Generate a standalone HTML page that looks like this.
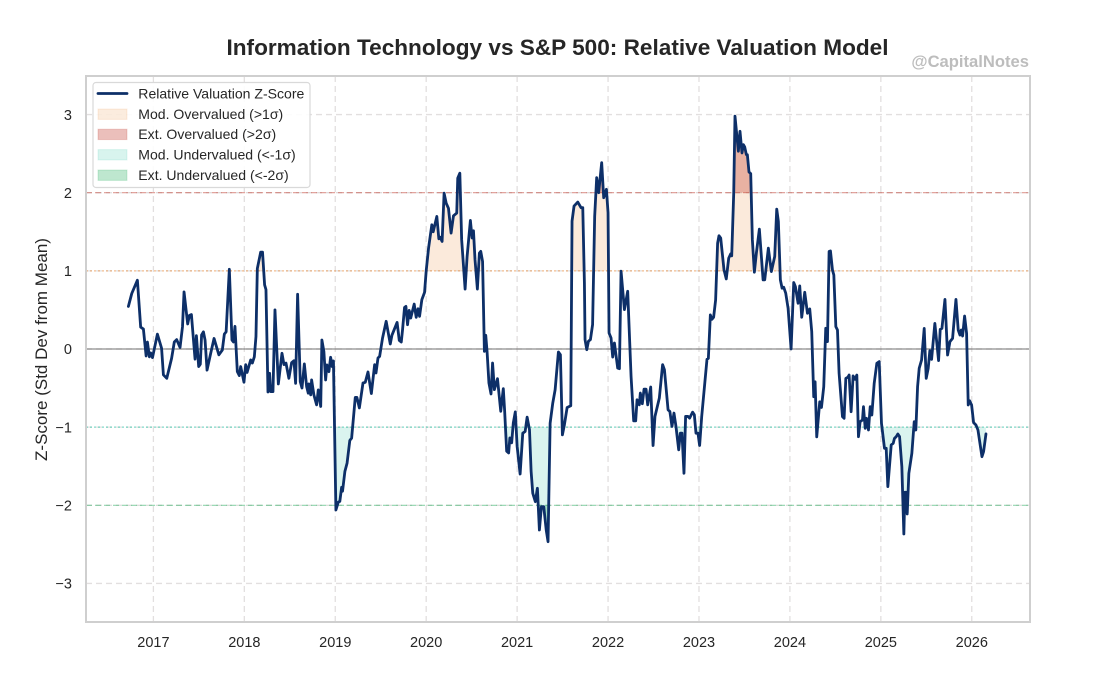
<!DOCTYPE html>
<html>
<head>
<meta charset="utf-8">
<title>Information Technology vs S&amp;P 500: Relative Valuation Model</title>
<style>
html,body{margin:0;padding:0;background:#fff;width:1093px;height:685px;overflow:hidden}
svg{display:block}
text{font-family:"Liberation Sans",Arial,sans-serif;fill:#262626}
</style>
</head>
<body>
<svg id="chart" xmlns="http://www.w3.org/2000/svg" width="1093" height="685" viewBox="0 0 1093 685">
  <defs>
    <clipPath id="clip-plot"><rect x="86" y="76" width="944" height="546"></rect></clipPath>
    <clipPath id="clip-over1"><rect id="r-over1" x="86" width="944"></rect></clipPath>
    <clipPath id="clip-over2"><rect id="r-over2" x="86" width="944"></rect></clipPath>
    <clipPath id="clip-under1"><rect id="r-under1" x="86" width="944"></rect></clipPath>
    <clipPath id="clip-under2"><rect id="r-under2" x="86" width="944"></rect></clipPath>
  </defs>
  <rect x="0" y="0" width="1093" height="685" fill="#ffffff"></rect>
  <g id="grid"></g>
  <g id="fills"></g>
  <g id="refs"></g>
  <g id="series" clip-path="url(#clip-plot)"></g>
  <rect x="86" y="76" width="944" height="546" fill="none" stroke="#cfcfcf" stroke-width="2"></rect>
  <g id="xticks"></g>
  <g id="yticks"></g>
  <text x="557.5" y="55" text-anchor="middle" font-size="22.6" font-weight="700">Information Technology vs S&amp;P 500: Relative Valuation Model</text>
  <text x="1029" y="67" text-anchor="end" font-size="16.6" font-weight="700" style="fill:#bdbdbd">@CapitalNotes</text>
  <text x="0" y="0" transform="translate(47,349.5) rotate(-90)" text-anchor="middle" font-size="17">Z-Score (Std Dev from Mean)</text>
  <g>
    <rect x="93" y="82.5" width="217" height="105" rx="3" fill="#ffffff" fill-opacity="0.9" stroke="#d9d9d9" stroke-width="1.2"></rect>
    <line x1="98" y1="93.5" x2="127" y2="93.5" stroke="#0d2f68" stroke-width="2.8" stroke-linecap="round"></line>
    <text x="138.3" y="98.5" font-size="14.05">Relative Valuation Z-Score</text>
    <rect x="98" y="109" width="29" height="10.4" fill="#e67e22" fill-opacity="0.15" stroke="#e67e22" stroke-opacity="0.12"></rect>
    <text x="138.3" y="118.8" font-size="14.05">Mod. Overvalued (&gt;1σ)</text>
    <rect x="98" y="129.2" width="29" height="10.4" fill="#c0392b" fill-opacity="0.32" stroke="#c0392b" stroke-opacity="0.2"></rect>
    <text x="138.3" y="139.1" font-size="14.05">Ext. Overvalued (&gt;2σ)</text>
    <rect x="98" y="149.6" width="29" height="10.4" fill="#1abc9c" fill-opacity="0.17" stroke="#1abc9c" stroke-opacity="0.12"></rect>
    <text x="138.3" y="159.5" font-size="14.05">Mod. Undervalued (&lt;-1σ)</text>
    <rect x="98" y="170" width="29" height="10.4" fill="#27ae60" fill-opacity="0.3" stroke="#27ae60" stroke-opacity="0.2"></rect>
    <text x="138.3" y="179.8" font-size="14.05">Ext. Undervalued (&lt;-2σ)</text>
  </g>
</svg>
<script>
var xTickValues = [2017, 2018, 2019, 2020, 2021, 2022, 2023, 2024, 2025, 2026];
var yTickValues = [-3, -2, -1, 0, 1, 2, 3];
var yTickLabels = ["\u22123", "\u22122", "\u22121", "0", "1", "2", "3"];
var thresholds = [2, 1, 0, -1, -2];
var dates = [
2016.725,2016.762,2016.824,2016.86,2016.89,2016.92,2016.934,2016.956,2016.97,2016.99,
2017.044,2017.09,2017.11,2017.147,2017.2,2017.23,2017.256,2017.293,2017.32,2017.337,
2017.377,2017.396,2017.418,2017.458,2017.473,2017.498,2017.516,2017.53,2017.55,2017.568,
2017.59,2017.63,2017.667,2017.72,2017.758,2017.78,2017.80,2017.835,2017.864,2017.88,
2017.897,2017.923,2017.945,2017.96,2017.996,2018.015,2018.03,2018.07,2018.088,2018.11,
2018.128,2018.143,2018.18,2018.2,2018.223,2018.238,2018.26,2018.278,2018.29,2018.315,
2018.337,2018.374,2018.414,2018.436,2018.458,2018.49,2018.52,2018.546,2018.564,2018.586,
2018.615,2018.634,2018.66,2018.685,2018.703,2018.71,2018.73,2018.74,2018.765,2018.795,
2018.813,2018.84,2018.853,2018.875,2018.894,2018.908,2018.93,2018.949,2018.967,2018.98,
2019.007,2019.033,2019.05,2019.07,2019.08,2019.106,2019.13,2019.16,2019.18,2019.22,
2019.238,2019.265,2019.305,2019.33,2019.36,2019.397,2019.433,2019.448,2019.47,2019.488,
2019.52,2019.56,2019.605,2019.623,2019.68,2019.704,2019.726,2019.74,2019.762,2019.777,
2019.795,2019.813,2019.83,2019.868,2019.89,2019.91,2019.927,2019.952,2019.982,2020.0,
2020.026,2020.062,2020.077,2020.117,2020.139,2020.154,2020.175,2020.197,2020.22,2020.245,
2020.274,2020.30,2020.336,2020.347,2020.37,2020.39,2020.428,2020.45,2020.486,2020.505,
2020.52,2020.537,2020.563,2020.585,2020.6,2020.62,2020.64,2020.655,2020.67,2020.69,
2020.713,2020.73,2020.75,2020.784,2020.82,2020.848,2020.863,2020.885,2020.907,2020.92,
2020.94,2020.958,2020.98,2021.0,2021.033,2021.062,2021.088,2021.11,2021.136,2021.154,
2021.172,2021.2,2021.223,2021.245,2021.267,2021.293,2021.32,2021.34,2021.363,2021.392,
2021.418,2021.454,2021.476,2021.498,2021.52,2021.55,2021.59,2021.604,2021.626,2021.667,
2021.703,2021.722,2021.74,2021.747,2021.766,2021.784,2021.806,2021.83,2021.853,2021.875,
2021.897,2021.93,2021.952,2021.982,2022.0,2022.011,2022.033,2022.051,2022.07,2022.106,
2022.125,2022.143,2022.18,2022.216,2022.253,2022.282,2022.304,2022.319,2022.344,2022.355,
2022.377,2022.396,2022.418,2022.436,2022.469,2022.495,2022.516,2022.564,2022.6,2022.62,
2022.66,2022.68,2022.703,2022.725,2022.747,2022.777,2022.795,2022.813,2022.835,2022.853,
2022.879,2022.897,2022.93,2022.949,2022.967,2022.989,2023.007,2023.03,2023.088,2023.103,
2023.125,2023.143,2023.161,2023.183,2023.205,2023.22,2023.239,2023.275,2023.30,2023.327,
2023.349,2023.36,2023.382,2023.396,2023.433,2023.451,2023.473,2023.488,2023.503,2023.521,
2023.532,2023.55,2023.569,2023.587,2023.609,2023.631,2023.664,2023.705,2023.723,2023.763,
2023.796,2023.833,2023.855,2023.873,2023.895,2023.914,2023.932,2023.954,2023.98,2024.013,
2024.042,2024.06,2024.09,2024.108,2024.13,2024.163,2024.193,2024.218,2024.24,2024.262,
2024.277,2024.295,2024.328,2024.347,2024.372,2024.394,2024.413,2024.431,2024.446,2024.468,
2024.483,2024.505,2024.523,2024.541,2024.578,2024.596,2024.615,2024.637,2024.651,2024.673,
2024.695,2024.717,2024.736,2024.754,2024.772,2024.798,2024.809,2024.828,2024.842,2024.864,
2024.883,2024.901,2024.927,2024.956,2024.982,2025.007,2025.04,2025.059,2025.077,2025.114,
2025.136,2025.15,2025.169,2025.187,2025.206,2025.231,2025.253,2025.264,2025.279,2025.29,
2025.308,2025.341,2025.367,2025.385,2025.404,2025.422,2025.448,2025.477,2025.499,2025.521,
2025.539,2025.558,2025.594,2025.635,2025.653,2025.672,2025.705,2025.734,2025.76,2025.789,
2025.826,2025.851,2025.87,2025.884,2025.899,2025.921,2025.943,2025.961,2025.976,2025.998,
2026.02,2026.046,2026.068,2026.09,2026.112,2026.13,2026.156
];
var zScores = [
.545,.71,.88,.28,.255,-.09,.09,-.10,-.05,-.11,
.19,.01,-.33,-.375,-.12,.09,.12,.02,.285,.73,
.32,.43,.44,-.13,.17,-.225,-.195,.18,.22,.115,
-.27,-.055,.135,-.075,-.013,.19,.22,1.02,.115,.09,
.29,-.29,-.34,-.225,-.425,-.2,-.30,-.14,-.18,-.1,
.16,1.03,1.24,1.24,.82,.76,-.55,-.31,-.545,-.545,
.5,-.447,-.055,-.2,-.18,-.375,-.175,-.15,-.44,.70,
-.417,-.5,-.19,-.48,-.565,-.447,-.587,-.396,-.587,-.715,
-.523,-.736,.115,-.034,-.396,-.204,-.29,-.106,-.225,-.153,
-2.06,-1.96,-1.95,-1.77,-1.82,-1.566,-1.46,-1.17,-1.14,-.62,
-.62,-.754,-.435,-.426,-.294,-.57,-.2,-.307,-.115,-.094,
.14,.354,.064,.175,.34,.11,.09,.247,.533,.545,
.31,.494,.396,.575,.405,.515,.418,.63,.724,1.0,
1.29,1.59,1.50,1.696,1.41,1.43,1.376,1.994,1.866,1.80,
1.483,1.704,1.74,2.186,2.25,1.40,.767,1.184,1.645,1.42,
1.513,1.142,.767,1.227,1.25,1.12,-.03,.175,-.04,-.435,
-.575,-.18,-.52,-.38,-.797,-.507,-.797,-1.308,-1.33,-1.138,
-1.2,-.946,-.805,-1.244,-1.6,-1.077,-1.056,-.872,-1.034,-1.568,
-1.846,-1.953,-1.782,-2.316,-2.017,-2.017,-2.316,-2.466,-.949,-.692,
-.521,-.038,-.073,-1.098,-.97,-.748,-.726,1.637,1.829,1.88,
1.808,1.808,.846,.12,-.009,.098,.12,.312,1.70,2.192,
2.0,2.385,1.936,2.043,1.744,.205,.141,-.103,.077,-.244,
-.252,.996,.504,.739,-.35,-.919,-.919,-.65,-.714,-.564,
-.70,-.513,-.513,-.714,-.487,-1.235,-.863,-.628,-.2,-.265,
-.778,-.80,-.991,-.82,-.991,-1.29,-1.077,-1.077,-1.59,-.863,
-.863,-.885,-.808,-.842,-1.077,-1.077,-1.235,-.863,-.132,-.12,
.436,.38,.406,.628,1.355,1.449,1.419,1.013,.897,1.162,
1.218,1.192,1.996,2.979,2.53,2.786,2.509,2.615,2.585,2.487,
2.487,2.265,2.244,1.397,.983,1.226,1.534,.885,.885,1.29,
.991,1.184,1.79,1.632,.885,.778,.79,.714,.521,0,
.85,.80,.585,.808,.406,.726,.457,.513,.222,-.611,
-.419,-1.124,-.675,-.748,-.483,.265,.094,1.248,1.254,1.011,
.947,.286,.243,-.311,-.866,-.887,-.375,-.362,-.333,-.802,
-.345,-.388,-.333,-1.122,-.93,-.908,-.738,-1.015,-.887,-1.036,
-.738,-.844,-.439,-.183,-.162,-.951,-1.271,-1.271,-1.761,-1.228,
-1.207,-1.143,-1.122,-1.087,-1.122,-1.505,-2.367,-1.834,-1.834,-2.111,
-1.591,-1.335,-.93,-1.036,-.482,-.247,-.141,.264,-.375,-.247,
-.021,-.132,.328,-.149,.252,.264,.635,-.077,.094,.136,
.635,.243,.179,.243,.166,.422,.2,-.716,-.661,-.716,
-.942,-.972,-1.036,-1.207,-1.378,-1.313,-1.087
];

var NS = "http://www.w3.org/2000/svg";
function xScale(year) { return 153.4 + (year - 2017) * 90.93; }
function yScale(z) { return 349 - z * 78.15; }
function make(tag, attrs, parent) {
  var el = document.createElementNS(NS, tag);
  for (var k in attrs) { el.setAttribute(k, attrs[k]); }
  parent.appendChild(el);
  return el;
}

var gridG = document.getElementById("grid");
var xtG = document.getElementById("xticks");
var ytG = document.getElementById("yticks");
var fillsG = document.getElementById("fills");
var refsG = document.getElementById("refs");
var seriesG = document.getElementById("series");

xTickValues.forEach(function (year) {
  var line = make("line", {x1: xScale(year), x2: xScale(year), y1: 76, y2: 622, stroke: "#e2dfdf", "stroke-width": 1.3, "stroke-dasharray": "6 4"}, gridG);
  
  
  var label = make("text", {x: xScale(year), y: 647, "text-anchor": "middle", "font-size": 14.5}, xtG);
  
  
  label.textContent = String(year);
});

yTickValues.forEach(function (z, i) {
  var line = make("line", {x1: 86, x2: 1030, y1: yScale(z), y2: yScale(z), stroke: "#e2dfdf", "stroke-width": 1.3, "stroke-dasharray": "6 4"}, gridG);
  
  
  var label = make("text", {x: 72, y: yScale(z) + 5.2, "text-anchor": "end", "font-size": 14.5}, ytG);
  
  
  label.textContent = yTickLabels[i];
});

/* zone clip rects follow the thresholds */
function setClip(id, zTop, zBottom) {
  var r = document.getElementById(id);
  r.setAttribute("y", yScale(zTop));
  r.setAttribute("height", yScale(zBottom) - yScale(zTop));
}
setClip("r-over1", 3.5, thresholds[1]);
setClip("r-over2", 3.5, thresholds[0]);
setClip("r-under1", thresholds[3], -3.5);
setClip("r-under2", thresholds[4], -3.5);

function zoneFill(base, clipId, color, opacity) {
  var pts = [xScale(dates[0]) + "," + yScale(base)];
  dates.forEach(function (d, i) { pts.push(xScale(d).toFixed(2) + "," + yScale(zScores[i]).toFixed(2)); });
  pts.push(xScale(dates[dates.length - 1]) + "," + yScale(base));
  return make("polygon", {points: pts.join(" "), fill: color, "fill-opacity": opacity, "clip-path": "url(#" + clipId + ")"}, fillsG);
}
var fillA = zoneFill(thresholds[1], "clip-over1", "#e67e22", 0.16);


var fillB = zoneFill(thresholds[0], "clip-over2", "#c0392b", 0.32);


var fillC = zoneFill(thresholds[3], "clip-under1", "#1abc9c", 0.16);


var fillD = zoneFill(thresholds[4], "clip-under2", "#27ae60", 0.3);



var refStyles = [
  {stroke: "#c0392b", op: 0.5, dash: "6 3", w: 1.2},
  {stroke: "#e67e22", op: 0.5, dash: "2 2", w: 1.2},
  {stroke: "#555555", op: 0.65, dash: "", w: 1.2},
  {stroke: "#1abc9c", op: 0.55, dash: "2 2", w: 1.2},
  {stroke: "#27ae60", op: 0.5, dash: "6 3", w: 1.2}
];
thresholds.forEach(function (z, i) {
  var s = refStyles[i];
  var line = make("line", {x1: 86, x2: 1030, y1: yScale(z), y2: yScale(z), stroke: s.stroke, "stroke-opacity": s.op, "stroke-width": s.w}, refsG);
  if (s.dash) { line.setAttribute("stroke-dasharray", s.dash); }
  
  
});

var d = dates.map(function (year, i) {
  return (i ? "L" : "M") + xScale(year).toFixed(2) + " " + yScale(zScores[i]).toFixed(2);
}).join(" ");
var path = make("path", {d: d, fill: "none", stroke: "#0d2f68", "stroke-width": 2.8, "stroke-linejoin": "round", "stroke-linecap": "round"}, seriesG);


</script>
</body>
</html>
